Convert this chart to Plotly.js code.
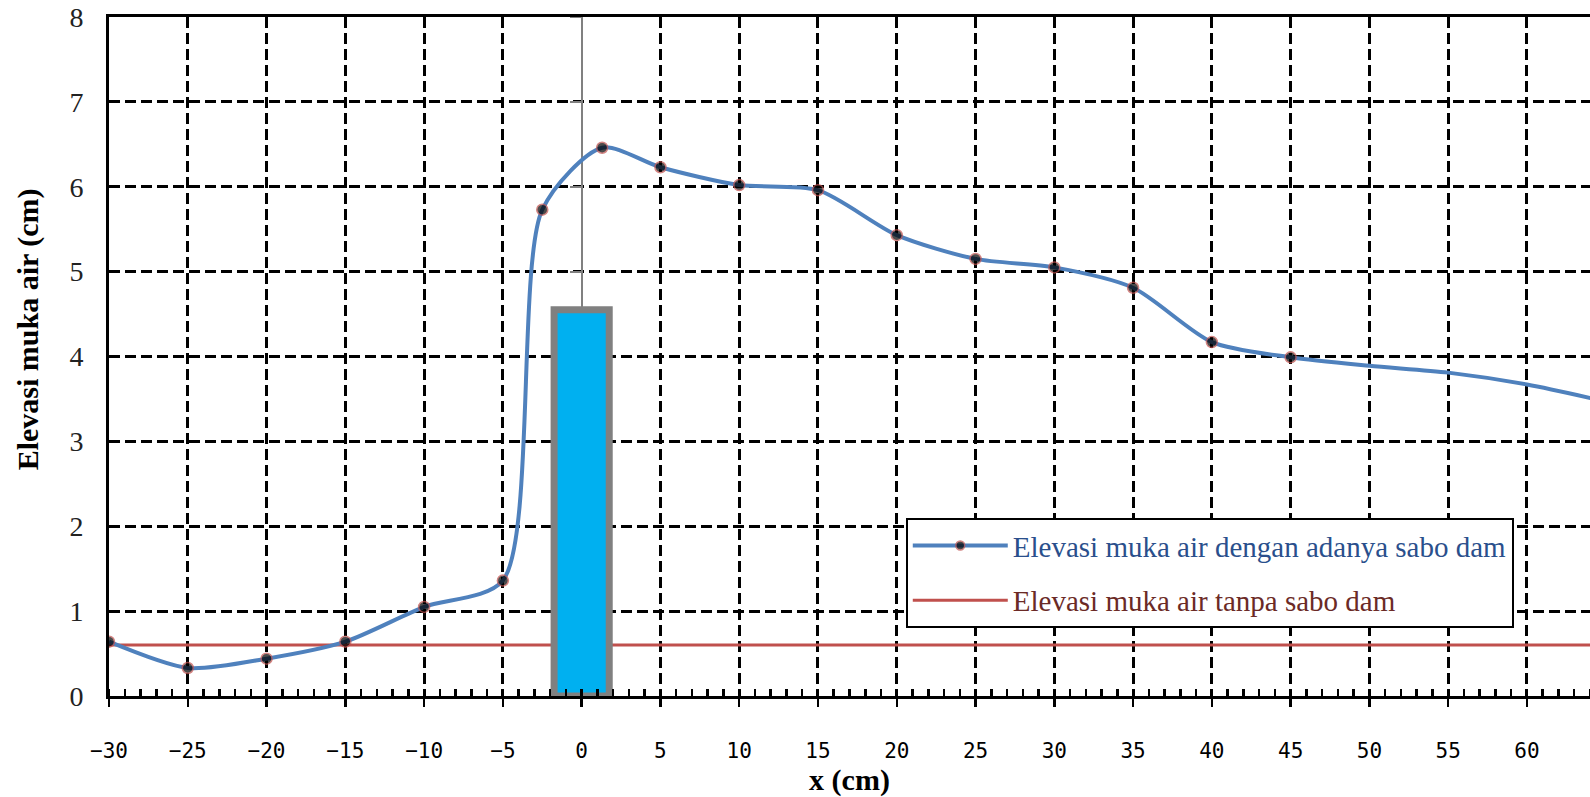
<!DOCTYPE html>
<html>
<head>
<meta charset="utf-8">
<script src="https://cdn.plot.ly/plotly-3.0.1.min.js"></script>
<style>html,body{margin:0;padding:0;background:#fff;}#chart{width:1590px;height:797px;}</style>
</head>
<body>
<div id="chart"></div>
<script>
// Water surface elevation with sabo dam (cm)
const xSabo = [-30, -25, -20, -15, -10, -5, -2.5, 1.3, 5, 10, 15, 20, 25, 30, 35, 40, 45, 50, 55, 60, 65];
const ySabo = [0.64, 0.33, 0.44, 0.64, 1.05, 1.36, 5.73, 6.46, 6.23, 6.02, 5.96, 5.43, 5.15, 5.05, 4.81, 4.17, 3.99, 3.89, 3.81, 3.67, 3.47];
const lastMarkedX = 45;
// Water surface elevation without sabo dam (cm)
const xNoDam = [-30, 65];
const yNoDam = [0.6, 0.6];
// Sabo dam
const damX = [0];
const damHeight = [4.55];
const damWidth = [3.5];
// Axes
const xRange = [-30, 64];
const yRange = [0, 8];
const xTicks = [-30, -25, -20, -15, -10, -5, 0, 5, 10, 15, 20, 25, 30, 35, 40, 45, 50, 55, 60];
const yTicks = [0, 1, 2, 3, 4, 5, 6, 7, 8];
const nameSabo = 'Elevasi muka air dengan adanya sabo dam';
const nameNoDam = 'Elevasi muka air tanpa sabo dam';
const xTitle = 'x (cm)';
const yTitle = 'Elevasi muka air (cm)';

const serif = '"Liberation Serif", "Times New Roman", serif';
const gridDash = '11px,5px';

const traces = [
  {
    x: xNoDam, y: yNoDam, type: 'scatter', mode: 'lines',
    name: '<span style="color:#6B2A26">' + nameNoDam + '</span>',
    line: {color: '#C0504D', width: 3},
    legendgroup: 'b', legendrank: 2, hoverinfo: 'skip'
  },
  {
    x: xSabo, y: ySabo, type: 'scatter', mode: 'lines+markers', xaxis: 'x2',
    name: '<span style="color:#2A4F8C">' + nameSabo + '</span>',
    line: {color: '#4F81BD', width: 4, shape: 'spline', smoothing: 0.75},
    marker: {color: '#000000', size: xSabo.map(v => v <= lastMarkedX ? 11 : 0),
             line: {color: '#C0504D', width: 1.5}},
    legendgroup: 'a', legendrank: 1
  },
  {
    x: damX, y: damHeight, width: damWidth, type: 'bar', yaxis: 'y2',
    marker: {color: '#00B0F0', line: {color: '#808080', width: 7}},
    showlegend: false, hoverinfo: 'skip'
  }
];

const layout = {
  width: 1590, height: 797,
  margin: {l: 109, r: 0, t: 17, b: 101},
  paper_bgcolor: '#ffffff', plot_bgcolor: '#ffffff',
  showlegend: true,
  barmode: 'overlay',
  legend: {
    x: 0.538, y: 0.262, xanchor: 'left', yanchor: 'top',
    bgcolor: '#ffffff', bordercolor: '#000000', borderwidth: 2,
    font: {family: serif, size: 29, color: '#2A4F8C'},
    traceorder: 'grouped', tracegroupgap: 14, itemwidth: 95
  },
  xaxis: {
    range: xRange, tickmode: 'array', tickvals: xTicks,
    showgrid: false, zeroline: false,
    showline: true, linecolor: '#000000', linewidth: 3, mirror: true,
    ticks: 'outside', ticklen: 8, tickwidth: 2.5, tickcolor: '#000000',
    ticklabelstandoff: 26,
    tickfont: {family: '"DejaVu Sans Mono", monospace', size: 21, color: '#000000'},
    minor: {ticks: 'inside', dtick: 1, tick0: -30, ticklen: 7, tickwidth: 2.5, tickcolor: '#000000', showgrid: false},
    title: {text: '<b>' + xTitle + '</b>', font: {family: serif, size: 30, color: '#000000'}, standoff: 10}
  },
  xaxis2: {
    overlaying: 'x', anchor: 'y', side: 'bottom',
    range: xRange, tickmode: 'array', tickvals: xTicks.filter(v => v !== 0),
    showgrid: true, gridcolor: '#000000', gridwidth: 3, griddash: gridDash,
    showticklabels: false, ticks: '', showline: false, zeroline: false
  },
  yaxis: {
    range: yRange, tickmode: 'array', tickvals: yTicks,
    showgrid: true, gridcolor: '#000000', gridwidth: 3, griddash: gridDash,
    zeroline: false, showline: true, linecolor: '#000000', linewidth: 3,
    ticks: '', ticklabelstandoff: 17,
    tickfont: {family: serif, size: 28, color: '#222222'}
  },
  yaxis2: {
    overlaying: 'y', anchor: 'free', side: 'left',
    position: (0 - xRange[0]) / (xRange[1] - xRange[0]),
    range: yRange, tickmode: 'array', tickvals: yTicks,
    showgrid: false, zeroline: false, showticklabels: false,
    showline: true, linecolor: '#808080', linewidth: 2.5,
    ticks: 'outside', ticklen: 11, tickwidth: 2, tickcolor: '#808080',
    layer: 'below traces'
  },
  annotations: [{
    text: '<b>' + yTitle + '</b>', textangle: -90,
    xref: 'paper', yref: 'paper', x: -0.0547, y: 0.540,
    xanchor: 'center', yanchor: 'middle', showarrow: false,
    font: {family: serif, size: 30, color: '#000000'}
  }]
};

Plotly.newPlot('chart', traces, layout, {displayModeBar: false, staticPlot: true});
</script>
</body>
</html>
